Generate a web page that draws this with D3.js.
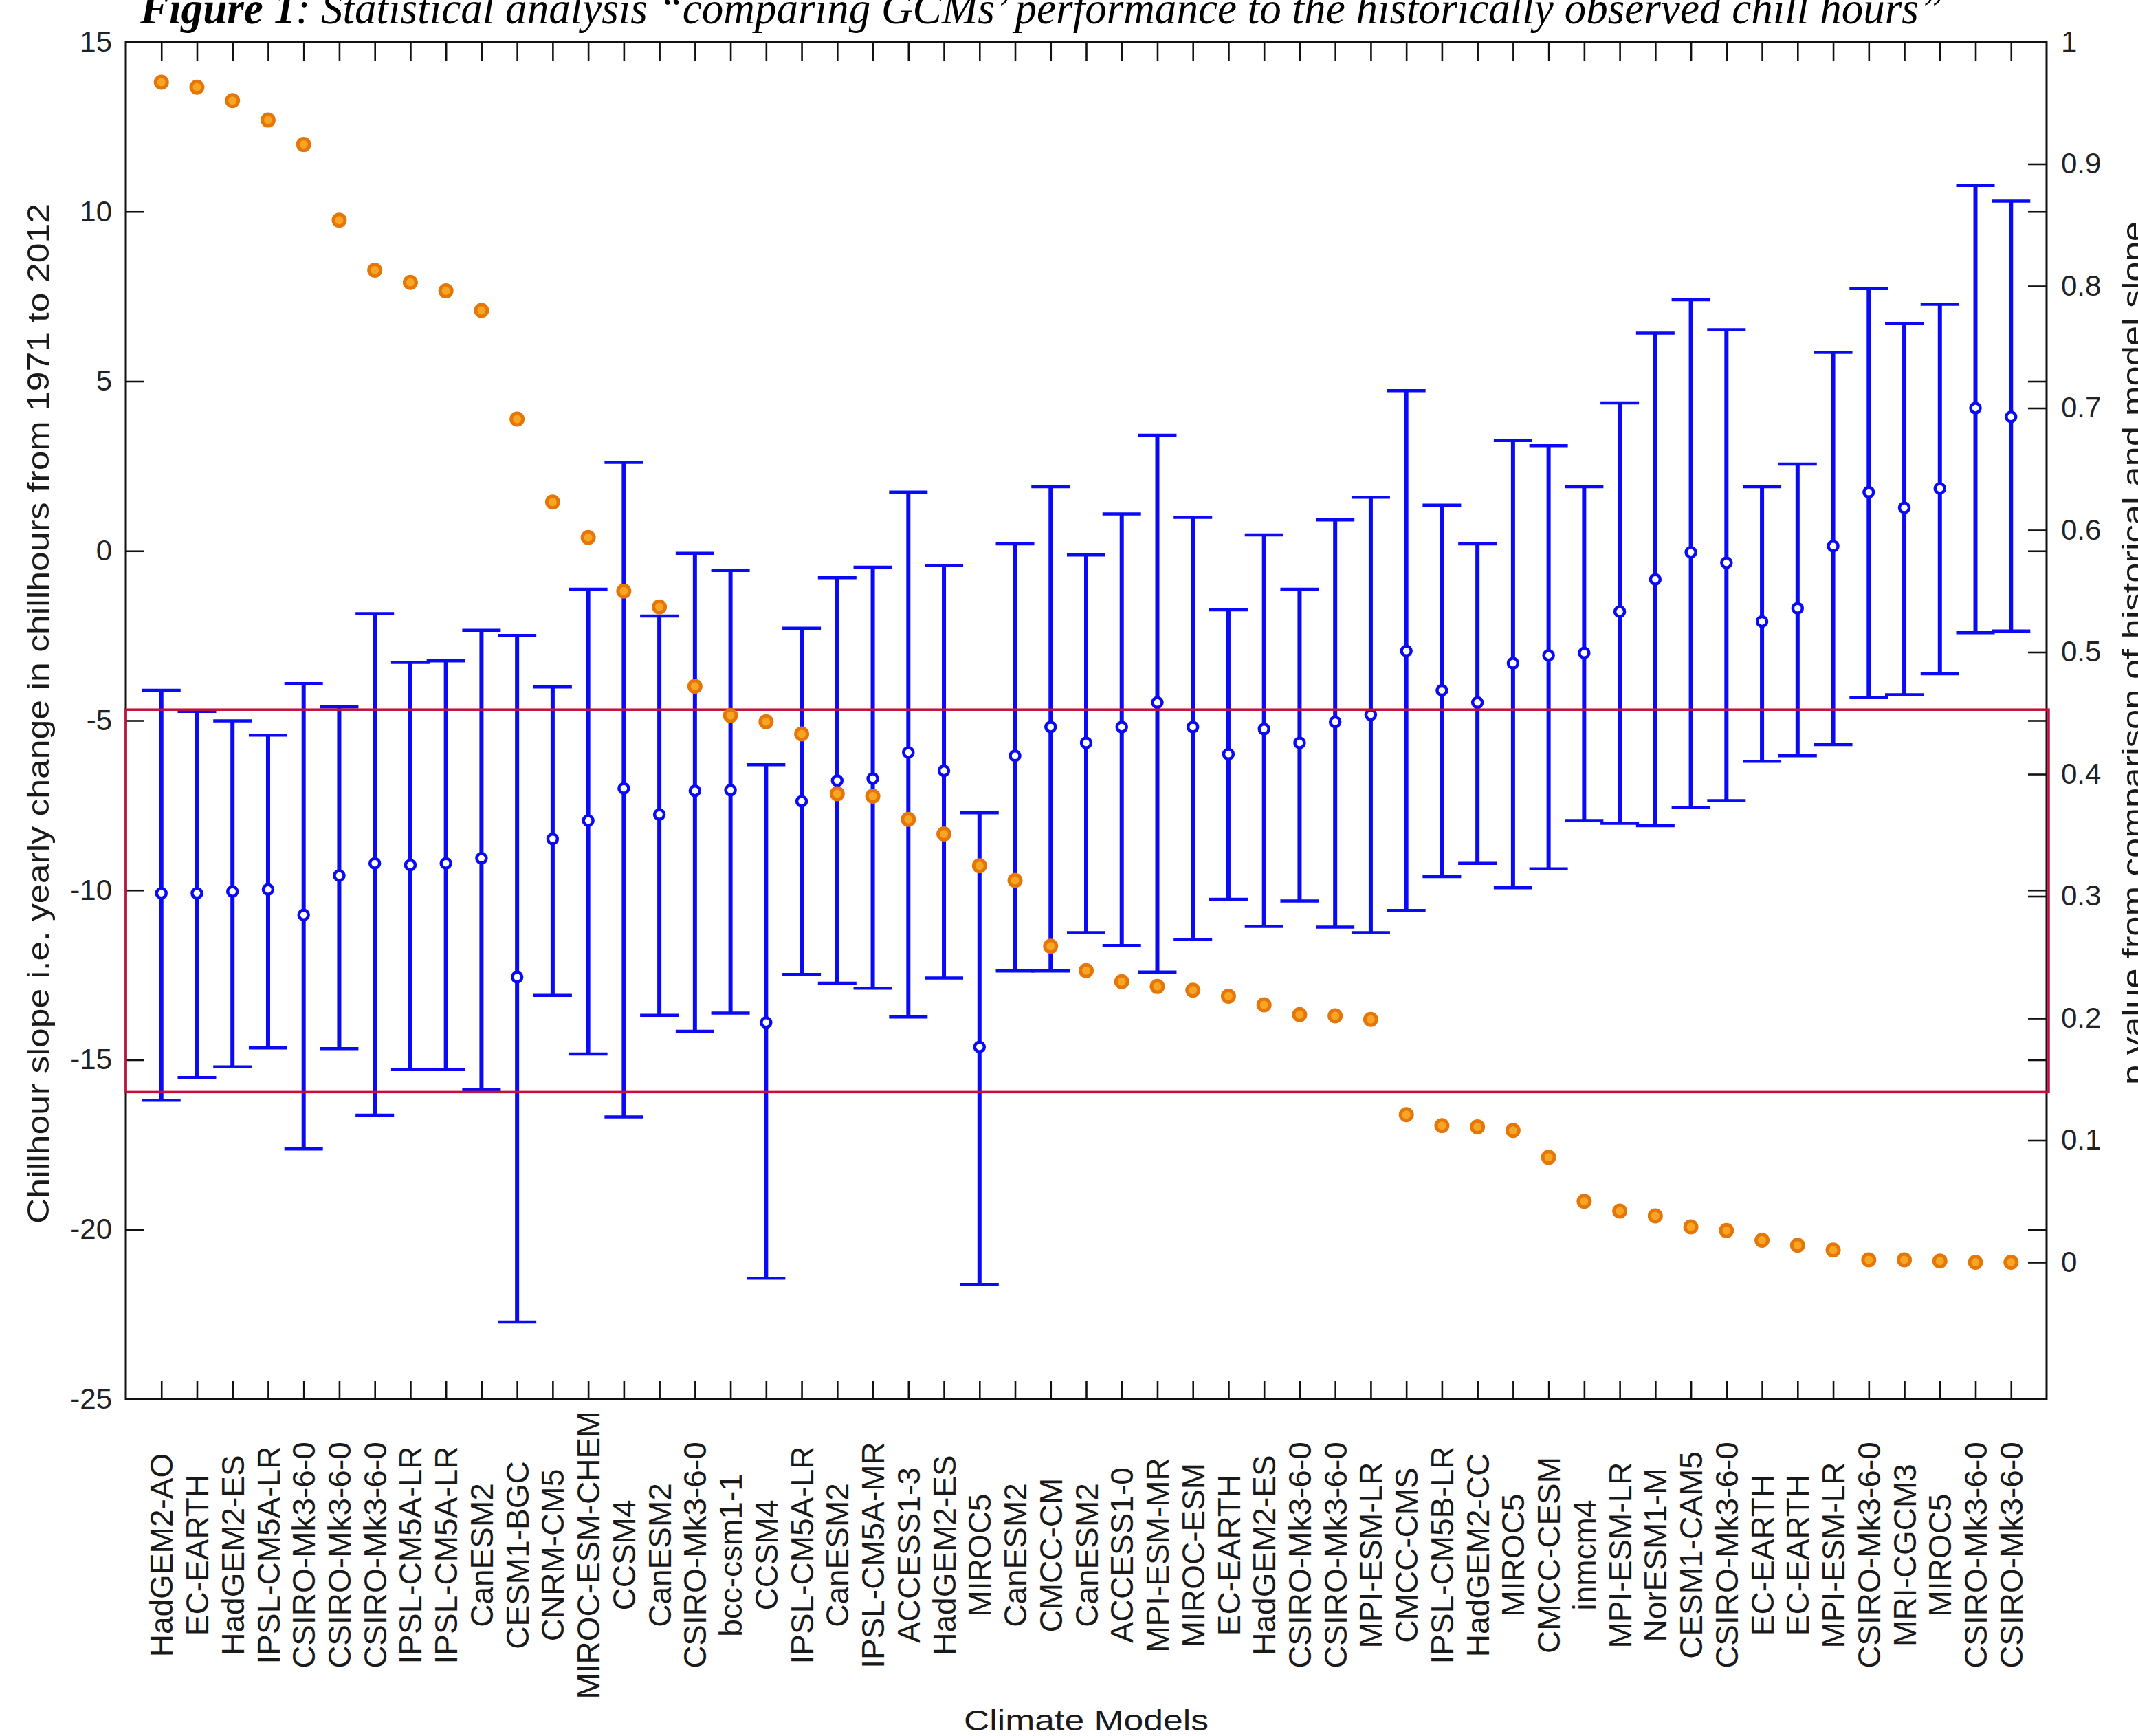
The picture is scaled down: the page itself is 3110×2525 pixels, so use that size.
<!DOCTYPE html>
<html>
<head>
<meta charset="utf-8">
<script src="https://cdn.jsdelivr.net/npm/d3@7"></script>
<style>
  html, body { margin: 0; padding: 0; background: #ffffff; }
  svg { display: block; }
</style>
</head>
<body>
<script>
// ---------------- DATA ----------------
const categories = [
  "HadGEM2-AO","EC-EARTH","HadGEM2-ES","IPSL-CM5A-LR","CSIRO-Mk3-6-0","CSIRO-Mk3-6-0",
  "CSIRO-Mk3-6-0","IPSL-CM5A-LR","IPSL-CM5A-LR","CanESM2","CESM1-BGC","CNRM-CM5",
  "MIROC-ESM-CHEM","CCSM4","CanESM2","CSIRO-Mk3-6-0","bcc-csm1-1","CCSM4","IPSL-CM5A-LR",
  "CanESM2","IPSL-CM5A-MR","ACCESS1-3","HadGEM2-ES","MIROC5","CanESM2","CMCC-CM","CanESM2",
  "ACCESS1-0","MPI-ESM-MR","MIROC-ESM","EC-EARTH","HadGEM2-ES","CSIRO-Mk3-6-0","CSIRO-Mk3-6-0",
  "MPI-ESM-LR","CMCC-CMS","IPSL-CM5B-LR","HadGEM2-CC","MIROC5","CMCC-CESM","inmcm4",
  "MPI-ESM-LR","NorESM1-M","CESM1-CAM5","CSIRO-Mk3-6-0","EC-EARTH","EC-EARTH","MPI-ESM-LR",
  "CSIRO-Mk3-6-0","MRI-CGCM3","MIROC5","CSIRO-Mk3-6-0","CSIRO-Mk3-6-0"
];
const slopeMean = [
  -10.09,-10.09,-10.04,-9.98,-10.73,-9.57,-9.21,-9.26,-9.21,-9.06,-12.56,-8.49,-7.95,
  -7.00,-7.77,-7.07,-7.05,-13.90,-7.38,-6.77,-6.71,-5.94,-6.48,-14.62,-6.04,-5.19,-5.66,
  -5.19,-4.47,-5.19,-5.99,-5.25,-5.66,-5.04,-4.83,-2.95,-4.11,-4.47,-3.31,-3.08,
  -3.01,-1.79,-0.84,-0.04,-0.35,-2.08,-1.69,0.14,1.73,1.27,1.84,4.21,3.95
];
const slopeUpper = [
  -4.11,-4.73,-5.01,-5.43,-3.91,-4.60,-1.85,-3.29,-3.24,-2.34,-2.49,-4.01,-1.13,
  2.61,-1.92,-0.07,-0.58,-6.30,-2.28,-0.79,-0.48,1.73,-0.43,-7.72,0.21,1.89,-0.12,
  1.09,3.41,0.99,-1.74,0.47,-1.13,0.91,1.58,4.72,1.35,0.21,3.25,3.10,
  1.89,4.36,6.42,7.40,6.52,1.89,2.56,5.85,7.73,6.70,7.27,10.77,10.31
];
const slopeLower = [
  -16.19,-15.52,-15.21,-14.65,-17.63,-14.67,-16.63,-15.29,-15.29,-15.88,-22.73,-13.10,-14.83,
  -16.68,-13.69,-14.16,-13.62,-21.44,-12.48,-12.74,-12.89,-13.74,-12.59,-21.62,-12.38,-12.38,-11.25,
  -11.63,-12.41,-11.45,-10.27,-11.07,-10.32,-11.09,-11.25,-10.60,-9.60,-9.21,-9.93,-9.37,
  -7.95,-8.03,-8.10,-7.56,-7.36,-6.20,-6.04,-5.71,-4.32,-4.24,-3.62,-2.41,-2.36
];
const pValues = [
  0.967,0.963,0.952,0.936,0.916,0.854,0.813,0.803,0.796,0.780,0.691,0.623,0.594,
  0.550,0.537,0.472,0.448,0.443,0.433,0.384,0.382,0.363,0.351,0.325,0.313,0.259,0.239,
  0.230,0.226,0.223,0.218,0.211,0.203,0.202,0.199,0.121,0.112,0.111,0.108,0.086,
  0.050,0.042,0.038,0.029,0.026,0.018,0.014,0.010,0.002,0.002,0.001,0.000,0.000
];
const observedRange = [-15.95, -4.68];   // historically observed slope band (left axis)
const leftTicks = [-25,-20,-15,-10,-5,0,5,10,15];
const leftTickLabels = ["-25","-20","-15","-10","-5","0","5","10","15"];
const rightTicks = [0,0.1,0.2,0.3,0.4,0.5,0.6,0.7,0.8,0.9,1];
const rightTickLabels = ["0","0.1","0.2","0.3","0.4","0.5","0.6","0.7","0.8","0.9","1"];

const titleBold = "Figure 1";
const titleRest = ": Statistical analysis \u201Ccomparing GCMs\u2019 performance to the historically observed chill hours\u201D";
const yLabelLeft = "Chillhour slope i.e. yearly change in chillhours from 1971 to 2012";
const yLabelRight = "p value from comparison of historical and model slope";
const xLabel = "Climate Models";

// ---------------- LAYOUT ----------------
const W = 3110, H = 2525;
const L = 183, R = 2977, T = 61, B = 2035;
const FONT = "'Liberation Sans', Arial, Helvetica, sans-serif";
const BLUE = "#0a0af5", ORANGE_FILL = "#f6a623", ORANGE_STROKE = "#e5760a", RED = "#c0123a";

const svg = d3.select("body").append("svg")
  .attr("width", W).attr("height", H)
  .attr("viewBox", `0 0 ${W} ${H}`)
  .style("background", "#fff");

const x = d3.scaleLinear().domain([0, categories.length + 1]).range([L, R]);
const yL = d3.scaleLinear().domain([-25, 15]).range([B, T]);
const yR = d3.scaleLinear().domain([-0.1121, 1]).range([B, T]);
const idx = d3.range(1, categories.length + 1);

// ---------------- AXES ----------------
function styleAxis(g) {
  g.select(".domain").remove();
  g.selectAll(".tick line").attr("stroke", "#111").attr("stroke-width", 2.6);
  g.selectAll(".tick text").attr("fill", "#222").style("font-family", FONT).style("font-size", "42px");
}
const TK = 27;
svg.append("g").attr("transform", `translate(${L},0)`)
  .call(d3.axisLeft(yL).tickValues(leftTicks).tickSize(-TK).tickSizeOuter(0).tickPadding(20)
    .tickFormat((d, i) => leftTickLabels[i]))
  .call(styleAxis);
svg.append("g").attr("transform", `translate(${R},0)`)
  .call(d3.axisRight(yL).tickValues(leftTicks.slice(1, -1)).tickSize(-TK).tickSizeOuter(0).tickFormat(""))
  .call(styleAxis);
svg.append("g").attr("transform", `translate(${R},0)`)
  .call(d3.axisRight(yR).tickValues(rightTicks).tickSize(-TK).tickSizeOuter(0).tickPadding(21)
    .tickFormat((d, i) => rightTickLabels[i]))
  .call(styleAxis);
svg.append("g").attr("transform", `translate(0,${T})`)
  .call(d3.axisTop(x).tickValues(idx).tickSize(-TK).tickSizeOuter(0).tickFormat(""))
  .call(styleAxis);
svg.append("g").attr("transform", `translate(0,${B})`)
  .call(d3.axisBottom(x).tickValues(idx).tickSize(-TK).tickSizeOuter(0).tickFormat(""))
  .call(styleAxis);

// frame
svg.append("rect").attr("x", L).attr("y", T).attr("width", R - L).attr("height", B - T)
  .attr("fill", "none").attr("stroke", "#111").attr("stroke-width", 3);

// category labels
svg.append("g").selectAll("text").data(categories).join("text")
  .attr("transform", (d, i) => `translate(${x(i + 1)},2262) rotate(-90)`)
  .attr("text-anchor", "middle").attr("dy", "0.36em")
  .style("font-family", FONT).style("font-size", "46px").attr("fill", "#1a1a1a")
  .text(d => d);

// ---------------- ERROR BARS ----------------
const CAP = 28;
const eb = svg.append("g").attr("stroke", BLUE).attr("fill", "none");
eb.selectAll("line.v").data(idx).join("line").attr("class", "v")
  .attr("x1", i => x(i)).attr("x2", i => x(i))
  .attr("y1", i => yL(slopeUpper[i - 1])).attr("y2", i => yL(slopeLower[i - 1]))
  .attr("stroke-width", 6);
eb.selectAll("line.t").data(idx).join("line").attr("class", "t")
  .attr("x1", i => x(i) - CAP).attr("x2", i => x(i) + CAP)
  .attr("y1", i => yL(slopeUpper[i - 1])).attr("y2", i => yL(slopeUpper[i - 1]))
  .attr("stroke-width", 4.5);
eb.selectAll("line.b").data(idx).join("line").attr("class", "b")
  .attr("x1", i => x(i) - CAP).attr("x2", i => x(i) + CAP)
  .attr("y1", i => yL(slopeLower[i - 1])).attr("y2", i => yL(slopeLower[i - 1]))
  .attr("stroke-width", 4.5);
eb.selectAll("circle").data(idx).join("circle")
  .attr("cx", i => x(i)).attr("cy", i => yL(slopeMean[i - 1])).attr("r", 7)
  .attr("fill", "#fff").attr("stroke-width", 4.5);

// observed band (red box)
svg.append("rect")
  .attr("x", L).attr("y", yL(observedRange[1]))
  .attr("width", R - L + 3).attr("height", yL(observedRange[0]) - yL(observedRange[1]))
  .attr("fill", "none").attr("stroke", RED).attr("stroke-width", 3.5);

// p-values
svg.append("g").selectAll("circle").data(idx).join("circle")
  .attr("cx", i => x(i)).attr("cy", i => yR(pValues[i - 1])).attr("r", 8.5)
  .attr("fill", ORANGE_FILL).attr("stroke", ORANGE_STROKE).attr("stroke-width", 5);

// ---------------- TEXT ----------------
svg.append("text")
  .attr("transform", "translate(71,1038) rotate(-90)")
  .attr("text-anchor", "middle")
  .attr("textLength", 1484).attr("lengthAdjust", "spacingAndGlyphs")
  .style("font-family", FONT).style("font-size", "45px").attr("fill", "#1a1a1a")
  .text(yLabelLeft);

svg.append("text")
  .attr("transform", "translate(3118,950) rotate(-90)")
  .attr("text-anchor", "middle")
  .attr("textLength", 1256).attr("lengthAdjust", "spacingAndGlyphs")
  .style("font-family", FONT).style("font-size", "45px").attr("fill", "#1a1a1a")
  .text(yLabelRight);

svg.append("text")
  .attr("x", (L + R) / 2).attr("y", 2517)
  .attr("text-anchor", "middle")
  .attr("textLength", 356).attr("lengthAdjust", "spacingAndGlyphs")
  .style("font-family", FONT).style("font-size", "43px").attr("fill", "#1a1a1a")
  .text(xLabel);

const title = svg.append("text")
  .attr("x", 204).attr("y", 34)
  .attr("textLength", 2622).attr("lengthAdjust", "spacingAndGlyphs")
  .style("font-family", "'Liberation Serif', 'Times New Roman', serif")
  .style("font-size", "66px").style("font-style", "italic").attr("fill", "#000");
title.append("tspan").style("font-weight", "bold").text(titleBold);
title.append("tspan").text(titleRest);
</script>
</body>
</html>
